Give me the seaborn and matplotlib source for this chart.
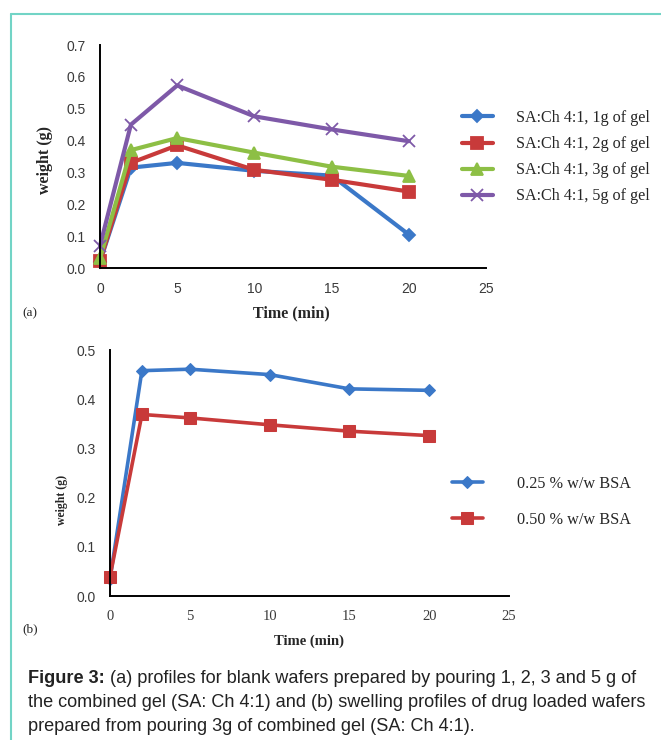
import pandas as pd
import matplotlib.pyplot as plt
import seaborn as sns
from matplotlib.lines import Line2D

# data
time = [0, 2, 5, 10, 15, 20]

gel_labels = ["SA:Ch 4:1, 1g of gel", "SA:Ch 4:1, 2g of gel",
              "SA:Ch 4:1, 3g of gel", "SA:Ch 4:1, 5g of gel"]
gel_1g = [0.020, 0.315, 0.330, 0.305, 0.290, 0.105]
gel_2g = [0.022, 0.330, 0.385, 0.308, 0.277, 0.240]
gel_3g = [0.030, 0.370, 0.408, 0.362, 0.318, 0.289]
gel_5g = [0.070, 0.450, 0.573, 0.476, 0.435, 0.398]

bsa_labels = ["0.25 % w/w BSA", "0.50 % w/w BSA"]
bsa_025 = [0.035, 0.458, 0.461, 0.450, 0.421, 0.418]
bsa_050 = [0.039, 0.369, 0.362, 0.348, 0.335, 0.326]

# long tables for seaborn
df_a = pd.DataFrame({
    "time": time * 4,
    "weight": gel_1g + gel_2g + gel_3g + gel_5g,
    "series": [lab for lab in gel_labels for _ in time],
})
df_b = pd.DataFrame({
    "time": time * 2,
    "weight": bsa_025 + bsa_050,
    "series": [lab for lab in bsa_labels for _ in time],
})

blue, red, green, purple = "#3B78C8", "#C83A3A", "#8DBF45", "#7E59A8"

sns.set_style("white")
plt.rcParams["font.family"] = ["Liberation Sans", "DejaVu Sans"]

fig = plt.figure(figsize=(6.61, 7.40), dpi=100)
W, H = 661, 740


def px_axes(l, t, r, b):
    return fig.add_axes([l / W, 1 - b / H, (r - l) / W, (b - t) / H])


def style_axes(ax, ymax, serif_x=False, xlab=11.5, ylab=11.5):
    for s in ["top", "right"]:
        ax.spines[s].set_visible(False)
    for s in ["left", "bottom"]:
        ax.spines[s].set_color("black")
        ax.spines[s].set_linewidth(1.4)
    ax.set_xlim(0, 25)
    ax.set_ylim(0, ymax)
    ax.set_xticks(range(0, 26, 5))
    yt = [i / 10 for i in range(int(round(ymax * 10)) + 1)]
    ax.set_yticks(yt)
    ax.set_yticklabels([f"{v:.1f}" for v in yt])
    ax.tick_params(direction="out", length=5, width=1.2, colors="black",
                   labelcolor="#3a3a3a", labelsize=10, pad=5)
    if serif_x:
        for t in ax.get_xticklabels():
            t.set_family("Liberation Serif")
            t.set_fontsize(10.5)
    ax.set_xlabel("Time (min)", family="Liberation Serif", weight="bold", fontsize=xlab)
    ax.set_ylabel("weight (g)", family="Liberation Serif", weight="bold", fontsize=ylab)


# panel (a)
ax1 = px_axes(100, 45, 486, 268)
sns.lineplot(data=df_a, x="time", y="weight", hue="series", style="series",
             hue_order=gel_labels, style_order=gel_labels,
             palette=[blue, red, green, purple], markers=["D", "s", "^", "o"],
             dashes=False, lw=3, legend=False, ax=ax1, clip_on=False)
for line, ms, mk in zip(ax1.lines, [6, 8.5, 9, 9], ["D", "s", "^", "x"]):
    line.set_marker(mk)
    line.set_markersize(ms)
    line.set_markeredgecolor(line.get_color())
    line.set_markeredgewidth(1.3)
style_axes(ax1, 0.7)
ax1.xaxis.set_label_coords(0.497, -0.169)
ax1.yaxis.set_label_coords(-0.122, 0.484)
fig.legend(ax1.lines[:4], gel_labels, loc="upper left",
           bbox_to_anchor=(462 / W, 1 - 110 / H), frameon=False,
           prop={"family": "Liberation Serif", "size": 11.6},
           handlelength=1.9, handletextpad=1.45, labelspacing=0.63,
           borderpad=0, borderaxespad=0)
fig.text(22 / W, 1 - 313 / H, "(a)", family="Liberation Serif", fontsize=9.5, va="center")

# panel (b)
ax2 = px_axes(110, 350, 509, 596)
sns.lineplot(data=df_b, x="time", y="weight", hue="series", style="series",
             hue_order=bsa_labels, style_order=bsa_labels,
             palette=[blue, red], markers=["D", "s"],
             dashes=False, lw=2.6, legend=False, ax=ax2, clip_on=False)
for line, ms in zip(ax2.lines, [6.5, 9]):
    line.set_markersize(ms)
    line.set_markeredgecolor(line.get_color())
style_axes(ax2, 0.5, serif_x=True, xlab=10.5, ylab=8.5)
ax2.xaxis.set_label_coords(0.50, -0.155)
ax2.yaxis.set_label_coords(-0.105, 0.39)
fig.legend(ax2.lines[:2], bsa_labels, loc="upper left",
           bbox_to_anchor=(452 / W, 1 - 476 / H), frameon=False,
           prop={"family": "Liberation Serif", "size": 11.7},
           handlelength=1.9, handletextpad=2.1, labelspacing=1.2,
           borderpad=0, borderaxespad=0)
fig.text(22 / W, 1 - 629 / H, "(b)", family="Liberation Serif", fontsize=9.5, va="center")

# teal frame
frame = "#72D4C6"
fig.add_artist(Line2D([11 / W, 11 / W], [0, 1 - 14 / H], transform=fig.transFigure,
                      color=frame, lw=1.5))
fig.add_artist(Line2D([11 / W, 1], [1 - 14 / H, 1 - 14 / H], transform=fig.transFigure,
                      color=frame, lw=1.5))

# caption
cap_font = ["Liberation Sans", "DejaVu Sans"]
cap_size = 13.1
t1 = fig.text(28 / W, 1 - 683 / H, "Figure 3:", family=cap_font, weight="bold",
              fontsize=cap_size, va="baseline", color="#222222")
ax1.annotate(" (a) profiles for blank wafers prepared by pouring 1, 2, 3 and 5 g of",
             xy=(1, 0), xycoords=t1, va="bottom", ha="left", family=cap_font,
             fontsize=cap_size, color="#222222", annotation_clip=False)
fig.text(28 / W, 1 - 707 / H,
         "the combined gel (SA: Ch 4:1) and (b) swelling profiles of drug loaded wafers",
         family=cap_font, fontsize=cap_size, va="baseline", color="#222222")
fig.text(28 / W, 1 - 731 / H,
         "prepared from pouring 3g of combined gel (SA: Ch 4:1).",
         family=cap_font, fontsize=cap_size, va="baseline", color="#222222")

fig.savefig("out.png", dpi=100)
